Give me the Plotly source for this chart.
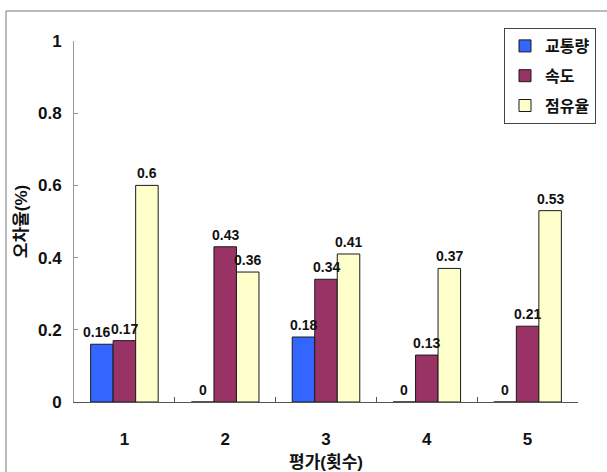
import plotly.graph_objects as go

# Evaluation rounds and error rates per indicator
rounds = ["1", "2", "3", "4", "5"]
traffic = [0.16, 0, 0.18, 0, 0]
speed = [0.17, 0.43, 0.34, 0.13, 0.21]
occupancy = [0.6, 0.36, 0.41, 0.37, 0.53]

series_names = ["교통량", "속도", "점유율"]
series_values = [traffic, speed, occupancy]
series_colors = ["#3366FF", "#993366", "#FFFFCC"]

FONT = "Liberation Sans, Arial, Noto Sans CJK KR, sans-serif"

W, H = 607, 472
ML, MR, MT, MB = 74, 29, 41, 70
PW, PH = W - ML - MR, H - MT - MB
BARGAP = 0.33
BAR_PX = PW / len(rounds) * (1 - BARGAP) / len(series_names)

# extra horizontal nudge (px) for value labels that would otherwise collide
label_nudge = {(0, 0): -5}

fig = go.Figure()
for i, (name, vals, col) in enumerate(zip(series_names, series_values, series_colors)):
    fig.add_trace(go.Bar(
        x=rounds, y=vals, name=name,
        marker=dict(color=col, line=dict(color="#1a1a1a", width=1)),
        legendgroup=f"g{i}",
    ))
    for j, v in enumerate(vals):
        # category axis positions are the category indices
        fig.add_annotation(
            x=j, y=v, xref="x", yref="y",
            text=f"{v:g}", showarrow=False,
            xanchor="center", yanchor="bottom",
            xshift=(i - 1) * BAR_PX + label_nudge.get((i, j), 0), yshift=2,
            font=dict(family=FONT, size=14, color="#111111", weight="bold"),
        )

def px_x(p):
    return (p - ML) / PW

def px_y(p):
    return (H - MB - p) / PH

fig.update_layout(
    width=W, height=H,
    margin=dict(l=ML, r=MR, t=MT, b=MB, pad=0, autoexpand=False),
    paper_bgcolor="white", plot_bgcolor="white",
    barmode="group", bargap=BARGAP, bargroupgap=0,
    font=dict(family=FONT, color="#111111"),
    showlegend=True,
    legend=dict(
        x=px_x(504), y=px_y(28), xanchor="left", yanchor="top",
        bgcolor="white", bordercolor="#444444", borderwidth=1,
        font=dict(family=FONT, size=16, color="#111111", weight="bold"),
        tracegroupgap=6, itemwidth=30,
    ),
    xaxis=dict(
        type="category", showgrid=False, zeroline=False, automargin=False,
        range=[-0.5, len(rounds) - 0.5],
        showline=True, linecolor="#555555", linewidth=1,
        ticks="inside", tickson="boundaries", ticklen=5, tickcolor="#555555",
        tickfont=dict(family=FONT, size=17, weight="bold"),
        ticklabelstandoff=22,
        title=dict(text="평가(횟수)", font=dict(family=FONT, size=17, weight="bold"), standoff=8),
    ),
    yaxis=dict(
        range=[0, 1], dtick=0.2, showgrid=False, zeroline=False, automargin=False,
        showline=True, linecolor="#999999", linewidth=1,
        ticks="inside", ticklen=4, tickcolor="#999999",
        tickfont=dict(family=FONT, size=17, weight="bold"),
        ticklabelstandoff=8,
        title=dict(text="오차율(%)", font=dict(family=FONT, size=17, weight="bold"), standoff=6),
    ),
    shapes=[
        dict(type="rect", xref="paper", yref="paper",
             x0=px_x(6), x1=px_x(W + 20), y0=px_y(H + 20), y1=px_y(11),
             line=dict(color="#777777", width=1), layer="below"),
    ],
)

fig.write_html("out.html")
